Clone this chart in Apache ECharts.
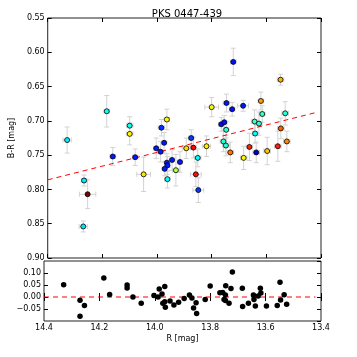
<!DOCTYPE html>
<html>
<head>
<meta charset="utf-8">
<script src="https://cdn.jsdelivr.net/npm/echarts@6/dist/echarts.min.js"></script>
<style>
  html, body { margin: 0; padding: 0; background: #fff; }
  #chart { width: 357px; height: 357px; }
</style>
</head>
<body>
<div id="chart"></div>
<script>
// R magnitude, B-R colour, errors and time (0..1 on the jet map)
var rMag   = [14.329, 14.184, 14.267, 14.254, 14.270, 14.162, 14.100, 14.100, 14.080, 14.049,
              13.984, 13.964, 13.974, 14.003, 13.987, 13.964, 13.962, 13.972, 13.945, 13.962,
              13.931, 13.916, 13.893, 13.875, 13.721, 13.867, 13.851, 13.858, 13.849, 13.819,
              13.800, 13.746, 13.725, 13.685, 13.765, 13.754, 13.747, 13.757, 13.748, 13.732,
              13.683, 13.662, 13.637, 13.643, 13.627, 13.641, 13.620, 13.615, 13.597, 13.558,
              13.547, 13.548, 13.531, 13.525];
var brMag  = [0.728, 0.686, 0.787, 0.807, 0.854, 0.752, 0.707, 0.719, 0.753, 0.778,
              0.710, 0.698, 0.732, 0.740, 0.745, 0.761, 0.765, 0.770, 0.757, 0.785,
              0.772, 0.760, 0.740, 0.725, 0.614, 0.739, 0.754, 0.778, 0.801, 0.737,
              0.680, 0.674, 0.683, 0.678, 0.705, 0.702, 0.713, 0.730, 0.736, 0.746,
              0.754, 0.738, 0.746, 0.701, 0.704, 0.7185, 0.671, 0.690, 0.744, 0.737,
              0.711, 0.640, 0.689, 0.730];
var rErr   = [0.015, 0.010, 0.010, 0.030, 0.015, 0.010, 0.012, 0.012, 0.010, 0.025,
              0.012, 0.010, 0.010, 0.010, 0.010, 0.010, 0.010, 0.010, 0.010, 0.010,
              0.012, 0.010, 0.015, 0.010, 0.010, 0.012, 0.012, 0.020, 0.020, 0.015,
              0.025, 0.012, 0.010, 0.020, 0.010, 0.010, 0.010, 0.012, 0.012, 0.012,
              0.012, 0.012, 0.012, 0.012, 0.012, 0.010, 0.010, 0.010, 0.012, 0.012,
              0.012, 0.012, 0.012, 0.012];
var brErr  = [0.019, 0.023, 0.008, 0.021, 0.008, 0.013, 0.013, 0.016, 0.012, 0.025,
              0.012, 0.015, 0.015, 0.015, 0.015, 0.013, 0.013, 0.010, 0.015, 0.013,
              0.023, 0.015, 0.015, 0.012, 0.020, 0.015, 0.013, 0.018, 0.018, 0.015,
              0.014, 0.013, 0.010, 0.008, 0.010, 0.010, 0.012, 0.015, 0.015, 0.015,
              0.017, 0.020, 0.015, 0.017, 0.017, 0.014, 0.013, 0.012, 0.020, 0.022,
              0.015, 0.008, 0.017, 0.015];
var epoch  = [0.36, 0.38, 0.36, 1.00, 0.35, 0.15, 0.40, 0.63, 0.15, 0.65,
              0.17, 0.63, 0.15, 0.15, 0.15, 0.15, 0.15, 0.15, 0.15, 0.38,
              0.55, 0.15, 0.66, 0.18, 0.14, 0.88, 0.38, 0.86, 0.18, 0.64,
              0.62, 0.15, 0.14, 0.15, 0.14, 0.14, 0.42, 0.42, 0.42, 0.76,
              0.63, 0.84, 0.07, 0.43, 0.42, 0.38, 0.72, 0.43, 0.68, 0.84,
              0.78, 0.70, 0.42, 0.74];

// linear fit
var fitR  = [14.40, 13.42];
var fitBR = [0.786, 0.688];

// residuals (bottom panel)
var resR   = [14.329, 14.270, 14.270, 14.254, 14.184, 14.163, 14.100, 14.100, 14.079, 14.049,
              14.003, 13.988, 13.984, 13.974, 13.964, 13.971, 13.964, 13.962, 13.945, 13.931,
              13.914, 13.894, 13.875, 13.866, 13.860, 13.851, 13.849, 13.818, 13.800, 13.765,
              13.755, 13.750, 13.745, 13.745, 13.744, 13.732, 13.725, 13.720, 13.684, 13.683,
              13.662, 13.644, 13.642, 13.637, 13.627, 13.619, 13.617, 13.597, 13.558, 13.548,
              13.546, 13.533, 13.524];
var resVal = [0.051, -0.014, -0.080, -0.035, 0.079, 0.010, 0.050, 0.038, 0.000, -0.026,
              0.006, 0.000, 0.033, 0.013, 0.044, -0.026, -0.020, -0.043, -0.017, -0.033,
              -0.022, -0.006, 0.008, -0.004, -0.046, -0.024, -0.069, -0.010, 0.046, 0.018,
              0.019, -0.010, -0.015, 0.008, 0.047, -0.026, 0.035, 0.104, 0.036, -0.040,
              -0.026, 0.008, -0.010, -0.037, 0.004, 0.036, 0.017, -0.038, -0.035, 0.061,
              -0.012, 0.009, -0.030];

var jet = ['#00007f', '#0000ff', '#007fff', '#00ffff', '#7fff7f', '#ffff00', '#ff7f00', '#ff0000', '#7f0000'];
var font = 'DejaVu Sans';

var pts = rMag.map(function (r, i) { return [r, brMag[i], rErr[i], brErr[i], epoch[i]]; });
var fitLine = fitR.map(function (r, i) { return [r, fitBR[i]]; });
var resPts = resR.map(function (r, i) { return [r, resVal[i]]; });
var zeroLine = [[14.4, 0], [13.42, 0]];

function renderErr(params, api) {
    var x = api.value(0), y = api.value(1), xe = api.value(2), ye = api.value(3);
    var lo = api.coord([x, y - ye]), hi = api.coord([x, y + ye]);
    var le = api.coord([x - xe, y]), ri = api.coord([x + xe, y]);
    var c = 2.5;
    var st = { stroke: '#d2d2d2', lineWidth: 1 };
    function seg(x1, y1, x2, y2) {
        return { type: 'line', shape: { x1: x1, y1: y1, x2: x2, y2: y2 }, style: st };
    }
    return {
        type: 'group',
        children: [
            seg(lo[0], lo[1], hi[0], hi[1]),
            seg(lo[0] - c, lo[1], lo[0] + c, lo[1]),
            seg(hi[0] - c, hi[1], hi[0] + c, hi[1]),
            seg(le[0], le[1], ri[0], ri[1]),
            seg(le[0], le[1] - c, le[0], le[1] + c),
            seg(ri[0], ri[1] - c, ri[0], ri[1] + c)
        ]
    };
}

var label = { fontFamily: font, fontSize: 8, color: '#000' };
var tick = { inside: true, length: 4, lineStyle: { color: '#000' } };
function xFmt(v) { return v.toFixed(1); }
function yFmt(v) { return (v < 0 ? '\u2212' : '') + Math.abs(v).toFixed(2); }

function xAx(grid, pos, showLabels, name) {
    return {
        type: 'value', gridIndex: grid, position: pos, inverse: true,
        min: 13.4, max: 14.4, interval: 0.2,
        axisLine: { show: false }, axisTick: tick, splitLine: { show: false },
        axisLabel: Object.assign({ show: showLabels, margin: 3, formatter: xFmt }, label),
        name: name || '', nameLocation: 'middle', nameGap: 14,
        nameTextStyle: { fontFamily: font, fontSize: 8, color: '#000' }
    };
}
function yAx(grid, pos, showLabels, opts) {
    return Object.assign({
        type: 'value', gridIndex: grid, position: pos,
        axisLine: { show: false }, axisTick: tick, splitLine: { show: false },
        axisLabel: Object.assign({ show: showLabels, margin: 3, formatter: yFmt }, label),
        nameLocation: 'middle', nameGap: 24,
        nameTextStyle: { fontFamily: font, fontSize: 8, color: '#000' }
    }, opts);
}

var chart = echarts.init(document.getElementById('chart'));
chart.setOption({
    animation: false,
    backgroundColor: '#fff',
    title: {
        text: 'PKS 0447-439', left: 182, top: 4, textAlign: 'center',
        textStyle: { fontFamily: font, fontSize: 10, fontWeight: 'normal', color: '#000' }
    },
    grid: [
        { left: 44, top: 18, width: 277, height: 240, show: true, borderColor: '#222', borderWidth: 1 },
        { left: 44, top: 261, width: 277, height: 60, show: true, borderColor: '#222', borderWidth: 1 }
    ],
    xAxis: [
        xAx(0, 'bottom', false),
        xAx(0, 'top', false),
        xAx(1, 'bottom', true, 'R [mag]'),
        xAx(1, 'top', false)
    ],
    yAxis: [
        yAx(0, 'left', true, { inverse: true, min: 0.55, max: 0.90, interval: 0.05, name: 'B-R [mag]' }),
        yAx(0, 'right', false, { inverse: true, min: 0.55, max: 0.90, interval: 0.05 }),
        yAx(1, 'left', true, { min: -0.10, max: 0.15, interval: 0.05,
            axisLabel: Object.assign({ show: true, margin: 3, formatter: yFmt, showMinLabel: false, showMaxLabel: false }, label) }),
        yAx(1, 'right', false, { min: -0.10, max: 0.15, interval: 0.05 })
    ],
    visualMap: {
        show: false, type: 'continuous', min: 0, max: 1, dimension: 4,
        seriesIndex: 2, inRange: { color: jet }
    },
    series: [
        {
            type: 'custom', xAxisIndex: 0, yAxisIndex: 0, renderItem: renderErr,
            data: pts, z: 1, silent: true
        },
        {
            type: 'line', xAxisIndex: 0, yAxisIndex: 0, data: fitLine, symbol: 'none',
            lineStyle: { color: '#ff0000', width: 1, type: [5, 4] }, z: 2
        },
        {
            type: 'scatter', xAxisIndex: 0, yAxisIndex: 0, data: pts, symbolSize: 5,
            itemStyle: { borderColor: '#000', borderWidth: 0.8, opacity: 1 }, z: 3
        },
        {
            type: 'line', xAxisIndex: 2, yAxisIndex: 2, data: zeroLine, symbol: 'none',
            lineStyle: { color: '#ff0000', width: 1, type: [5, 4] }, z: 2
        },
        {
            type: 'scatter', xAxisIndex: 2, yAxisIndex: 2, data: resPts, symbolSize: 5.5,
            itemStyle: { color: '#000', opacity: 1 }, z: 3
        }
    ]
});
</script>
</body>
</html>
